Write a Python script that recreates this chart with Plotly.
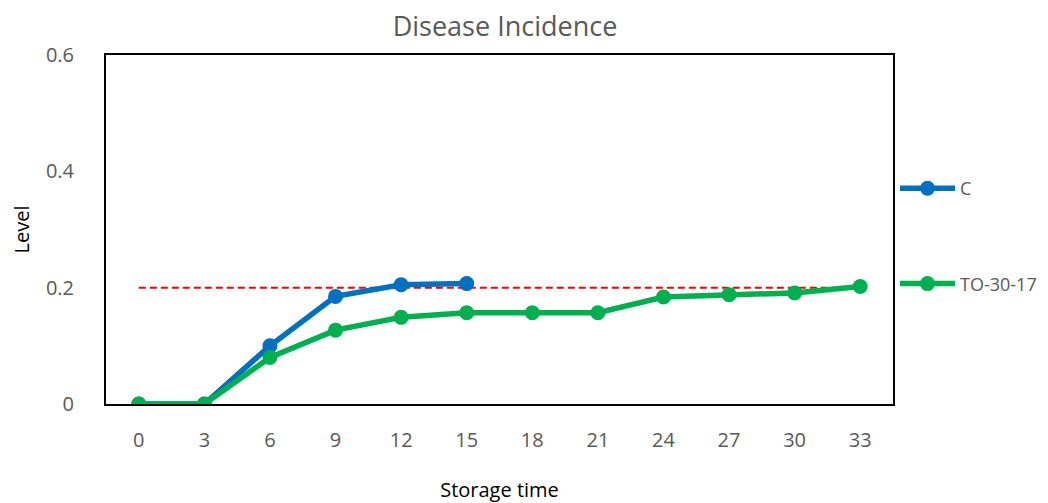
import plotly.graph_objects as go

categories = ["0", "3", "6", "9", "12", "15", "18", "21", "24", "27", "30", "33"]
c_values = [0, 0, 0.10, 0.185, 0.205, 0.207]
to_values = [0, 0, 0.08, 0.127, 0.149, 0.157, 0.157, 0.157, 0.184, 0.188, 0.191, 0.202]
threshold = [0.2] * len(categories)
y_ticks = [0, 0.2, 0.4, 0.6]
y_tick_labels = ["0", "0.2", "0.4", "0.6"]

FONT = "Open Sans"
GRAY = "#595959"

fig = go.Figure()
fig.add_trace(go.Scatter(
    x=categories, y=threshold, mode="lines", showlegend=False,
    line=dict(color="#FF0000", width=2, dash="7px,4px"), hoverinfo="skip"))
fig.add_trace(go.Scatter(
    x=categories[:len(c_values)], y=c_values, mode="lines+markers", name="C",
    legendgroup="c", line=dict(color="#0070C0", width=5.5),
    marker=dict(size=15, color="#0070C0")))
fig.add_trace(go.Scatter(
    x=categories, y=to_values, mode="lines+markers", name="TO-30-17",
    legendgroup="t", line=dict(color="#00B050", width=5.5),
    marker=dict(size=15, color="#00B050")))

fig.update_layout(
    width=1032, height=495,
    margin=dict(l=98, r=147, t=47, b=99, autoexpand=False),
    paper_bgcolor="white", plot_bgcolor="white",
    font=dict(family=FONT, color=GRAY, size=20),
    title=dict(text="Disease Incidence", x=0.4816, xref="container", xanchor="center",
               y=1 - 19 / 495, yref="container", yanchor="middle",
               font=dict(family=FONT, size=27, color=GRAY)),
    legend=dict(x=0.8595, xref="container", xanchor="left",
                y=1 - 162 / 495, yref="container", yanchor="top",
                tracegroupgap=69, font=dict(size=18, color=GRAY),
                itemwidth=55, bgcolor="rgba(0,0,0,0)"),
    showlegend=True,
)
fig.update_xaxes(
    type="category", categoryorder="array", categoryarray=categories,
    range=[-0.5, len(categories) - 0.5], autorange=False,
    showline=True, linecolor="black", linewidth=2, mirror=True,
    showgrid=False, zeroline=False, ticks="", automargin=True,
    ticklabelstandoff=17, tickfont=dict(size=20, color=GRAY),
    title=dict(text="Storage time", font=dict(size=20, color="black"), standoff=33),
)
fig.update_yaxes(
    range=[0, 0.6], tickvals=y_ticks, ticktext=y_tick_labels,
    showline=True, linecolor="black", linewidth=2, mirror=True,
    showgrid=False, zeroline=False, ticks="", automargin=True,
    ticklabelstandoff=26, tickfont=dict(size=20, color=GRAY),
    title=dict(text="Level", font=dict(size=20, color="black"), standoff=23),
)

fig.write_html("out.html")
